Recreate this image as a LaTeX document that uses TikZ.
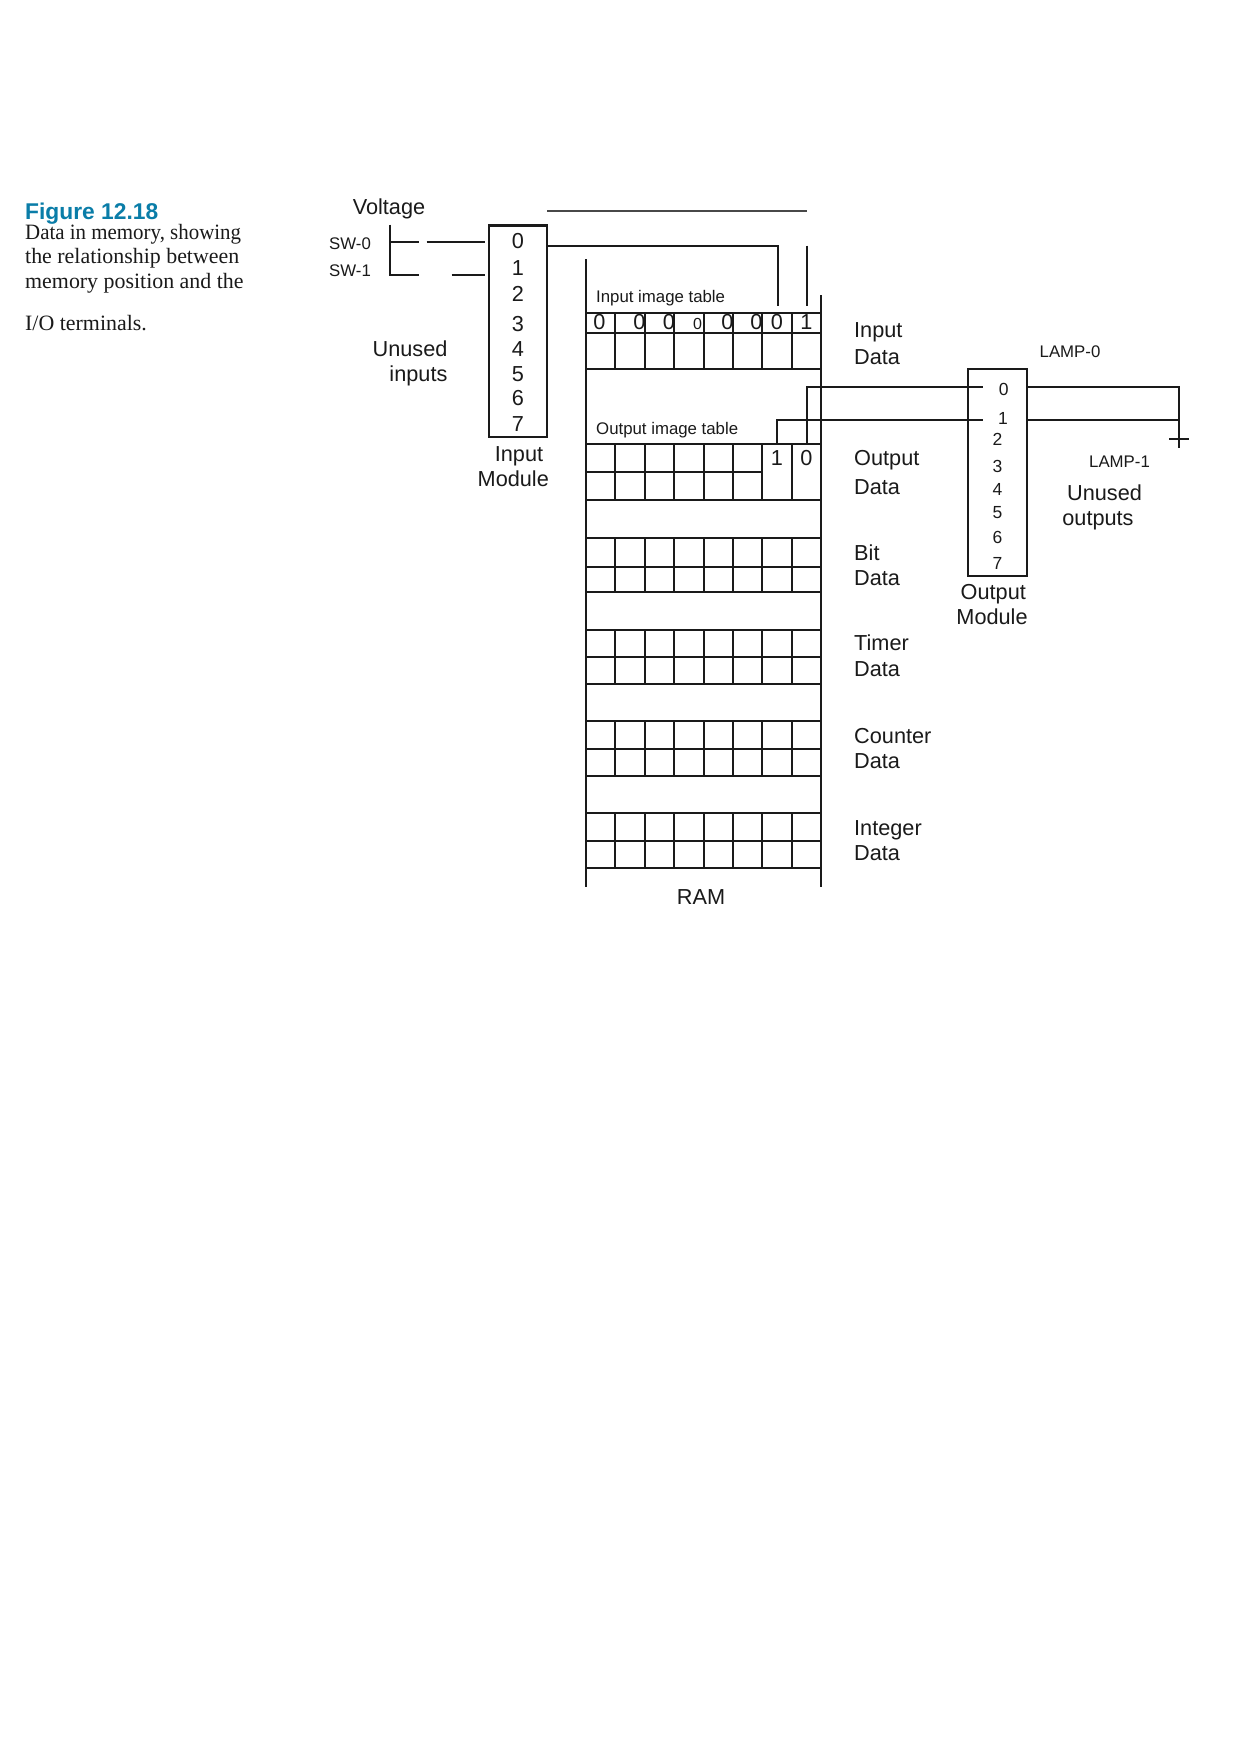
\documentclass[tikz,border=0pt]{standalone}
\usepackage{fontspec}
\setmainfont{Liberation Sans}
\newfontfamily\capfont{Liberation Serif}
\definecolor{ink}{HTML}{1A1A1A}
\definecolor{figblue}{HTML}{0A7DA8}
\tikzset{
  wire/.style={draw=ink,line width=2pt,line cap=butt},
  thinwire/.style={draw=ink!80,line width=1.1pt},
  modbox/.style={draw=ink,line width=2.1pt,minimum width=#1,inner sep=0pt,outer sep=0pt},
  big/.style={font=\fontsize{21.7}{25}\selectfont,text=ink,inner sep=0pt,text height=15pt,text depth=0pt},
  small/.style={font=\fontsize{16.8}{20}\selectfont,text=ink,inner sep=0pt,text height=12pt,text depth=0pt},
  tiny0/.style={font=\fontsize{16}{20}\selectfont,text=ink,inner sep=0pt,text height=11.5pt,text depth=0pt},
  capt/.style={font=\capfont\fontsize{21.9}{25}\selectfont,text=ink,inner sep=0pt,anchor=west,text height=14pt,text depth=0pt},
  outd/.style={font=\fontsize{17.5}{20}\selectfont,text=ink,inner sep=0pt,text height=12.6pt,text depth=0pt},
}
\begin{document}
\begin{tikzpicture}[x=1pt,y=-1pt]
\useasboundingbox[fill=white] (0,0) rectangle (1241,1754);
% caption
\node[anchor=west,inner sep=0pt,text=figblue,font=\bfseries\fontsize{22.8}{26}\selectfont,text height=16pt,text depth=0pt] (figt) at (25,211) {Figure 12.18};
\node[capt] (c1) at (25,232.7) {\scalebox{0.955}[1]{Data in memory, showing}};
\node[capt] (c2) at (25,256.7) {the relationship between};
\node[capt] (c3) at (25,281.3) {memory position and the};
\node[capt] (c4) at (25,323.3) {I/O terminals.};
% input module
\node[modbox=58.6pt,minimum height=211.4pt,anchor=north west] (inmod) at (488.6,225.5) {};
\foreach \d/\yy in {0/241,1/267.7,2/294,3/323.7,4/349,5/373.7,6/397.7,7/423.7}
  \node[big] (ind\d) at (517.8,\yy) {\d};
\node[big] (voltage) at (389,206.7) {Voltage};
\node[small,anchor=west] (sw0) at (329,243.3) {SW-0};
\node[small,anchor=west] (sw1) at (329,270) {SW-1};
\node[big,anchor=east] (unused) at (447.6,348.7) {Unused};
\node[big,anchor=east] (inputs) at (447.6,373.7) {inputs};
\node[big] (inl1) at (519,454) {Input};
\node[big] (inl2) at (513.3,478.7) {Module};
% switches
\coordinate (swtop) at (390.4,224.5);
\coordinate (swbot) at (390.4,275);
\coordinate (sa) at (390.4,242.3);
\coordinate (sb) at (419,242.3);
\coordinate (sc) at (426.7,242.3);
\coordinate (sd) at (485,242.3);
\coordinate (se) at (419,275);
\coordinate (sf) at (451.6,275);
\coordinate (sg) at (485,275);
\draw[wire] (swtop) -- (swbot) -- (se);
\draw[wire] (sa) -- (sb);
\draw[wire] (sc) -- (sd);
\draw[wire] (sf) -- (sg);
% top line and input wires
\coordinate (topa) at (547,211);
\coordinate (topb) at (807,211);
\draw[thinwire] (topa) -- (topb);
\coordinate (w0a) at (inmod.east |- 0,245.7);
\coordinate (w0b) at (777.5,245.7);
\coordinate (w0c) at (777.5,305.7);
\coordinate (w1a) at (806.7,245.7);
\coordinate (w1b) at (806.7,305.7);
\draw[wire] (w0a) -- (w0b) -- (w0c);
\draw[wire] (w1a) -- (w1b);
% RAM rails
\coordinate (ramlt) at (586,259.3);
\coordinate (ramlb) at (586,886.7);
\coordinate (ramrt) at (821,295);
\coordinate (ramrb) at (821,886.7);
\draw[wire] (ramlt) -- (ramlb);
\draw[wire] (ramrt) -- (ramrb);
% grids
\foreach \a/\b/\c in {313/333.3/369.3,537.7/566.7/592.3,629.7/657/684.3,721.3/749/776.3,813.3/840.7/868.3}{
  \draw[wire] (586,\a) -- (821,\a);
  \draw[wire] (586,\b) -- (821,\b);
  \draw[wire] (586,\c) -- (821,\c);
  \foreach \i in {1,...,7}
    \draw[wire] ({586+\i*29.4},\a) -- ({586+\i*29.4},\c);
}
% output table
\draw[wire] (586,443.7) -- (821,443.7);
\draw[wire] (586,471.7) -- (763,471.7);
\draw[wire] (586,500.3) -- (821,500.3);
\foreach \i in {1,...,7}
  \draw[wire] ({586+\i*29.4},443.7) -- ({586+\i*29.4},500.3);
% table text
\node[small,anchor=west] (iit) at (596,296.7) {Input image table};
\node[small,anchor=west] (oit) at (596,428.7) {Output image table};
\foreach \n/\xx/\d in {a/599.5/0,b/639.5/0,c/669/0,e/727.5/0,f/756.5/0,g/777/0,h/806.5/1}
  \node[big] (bit\n) at (\xx,322) {\d};
\node[tiny0] (bitd) at (697.6,323.5) {0};
\node[big] (obit1) at (777,457.7) {1};
\node[big] (obit0) at (806.5,457.7) {0};
% RAM labels
\node[big,anchor=west] (li1) at (854,330) {Input};
\node[big,anchor=west] (li2) at (854,356.7) {Data};
\node[big,anchor=west] (lo1) at (854,457.7) {Output};
\node[big,anchor=west] (lo2) at (854,486.7) {Data};
\node[big,anchor=west] (lb1) at (854,553.3) {Bit};
\node[big,anchor=west] (lb2) at (854,577.7) {Data};
\node[big,anchor=west] (lt1) at (854,643.3) {Timer};
\node[big,anchor=west] (lt2) at (854,669.3) {Data};
\node[big,anchor=west] (lc1) at (854,735.7) {Counter};
\node[big,anchor=west] (lc2) at (854,760.7) {Data};
\node[big,anchor=west] (ln1) at (854,827.7) {Integer};
\node[big,anchor=west] (ln2) at (854,852.7) {Data};
\node[big] (ram) at (701,896.7) {RAM};
% output module
\node[modbox=58.8pt,minimum height=206.6pt,anchor=north west] (outmod) at (968,369) {};
\node[outd] (od0) at (1003.7,389.3) {0};
\node[outd] (od1) at (1003,418.2) {1};
\foreach \d/\yy in {2/439,3/466.3,4/489,5/512.3,6/536.7,7/562.7}
  \node[outd] (od\d) at (997.5,\yy) {\d};
\node[big] (oul1) at (993.3,591.7) {Output};
\node[big] (oul2) at (992,617.3) {Module};
\node[small] (lamp0) at (1070,351.7) {LAMP-0};
\node[small] (lamp1) at (1119.5,461) {LAMP-1};
\node[big] (uo1) at (1104.5,492.7) {Unused};
\node[big] (uo2) at (1098,518) {outputs};
% output wires
\coordinate (o0a) at (806.7,443.7);
\coordinate (o0b) at (806.7,387);
\coordinate (o0c) at (983,387);
\coordinate (o1a) at (777.4,443.7);
\coordinate (o1b) at (777.4,419.7);
\coordinate (o1c) at (983,419.7);
\draw[wire] (o0a) -- (o0b) -- (o0c);
\draw[wire] (o1a) -- (o1b) -- (o1c);
\coordinate (l0a) at (outmod.east |- o0c);
\coordinate (l1a) at (outmod.east |- o1c);
\coordinate (l0b) at (1179,387);
\coordinate (l1b) at (1179,419.7);
\coordinate (lend) at (1179,448.3);
\coordinate (gl) at (1169,438.7);
\coordinate (gr) at (1188.6,438.7);
\draw[wire] (l0a) -- (l0b) -- (lend);
\draw[wire] (l1a) -- (l1b);
\draw[wire] (gl) -- (gr);
\end{tikzpicture}
\end{document}
